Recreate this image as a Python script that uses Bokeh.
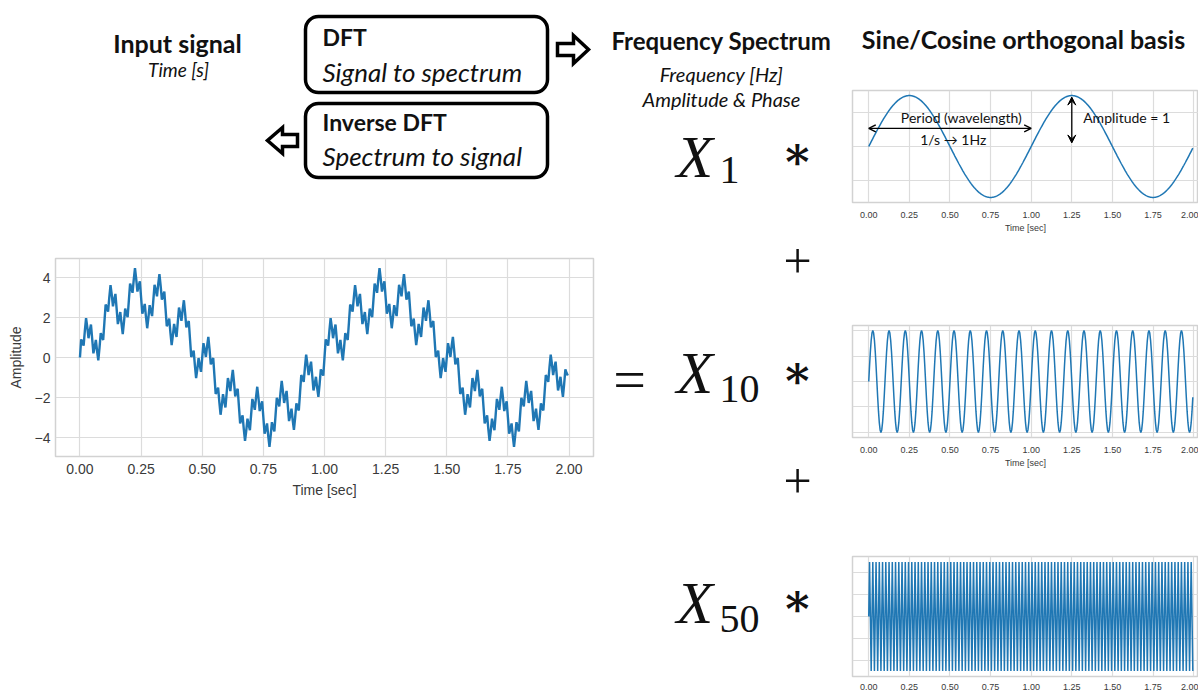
import numpy as np
from bokeh.plotting import figure
from bokeh.layouts import column, row, Spacer
from bokeh.models import (Range1d, BoxAnnotation, Arrow, OpenHead, VeeHead,
                          FixedTicker, NumeralTickFormatter)
from bokeh.core.properties import value
from bokeh.embed import file_html
from bokeh.resources import INLINE

# ---------------- data ----------------
sample_rate_hz = 200          # samples per second
duration_s = 2.0
component_freqs_hz = [1, 10, 50]      # X_1, X_10, X_50
component_amps = [3.0, 1.0, 0.5]      # amplitudes inside the input signal
basis_amp = 1.0                       # "Amplitude = 1"
time_ticks = [0.0, 0.25, 0.5, 0.75, 1.0, 1.25, 1.5, 1.75, 2.0]
signal_y_ticks = [-4, -2, 0, 2, 4]
basis1_y_ticks = [-0.67, 0.0, 0.67]
basis10_y_ticks = [-1.0, -0.5, 0.0, 0.5, 1.0]
basis50_y_ticks = [-0.8, -0.4, 0.0, 0.4, 0.8]
coef_labels = ["1", "10", "50"]

t = np.arange(0, duration_s, 1.0 / sample_rate_hz)
basis = [basis_amp * np.sin(2 * np.pi * f * t) for f in component_freqs_hz]
signal = sum(a * b for a, b in zip(component_amps, basis))

# ---------------- styling ----------------
BLUE = "#1f77b4"
GRID = "#dcdcdc"
FRAME = "#d2d2d2"
TXT = "#3a3a3a"
SANS = "Liberation Sans"
HEAD = "Lato"
SERIF = "Liberation Serif"


def canvas(x0, x1, y0, y1, bl=0, br=0):
    p = figure(width=int(x1 - x0 + bl + br), height=int(y1 - y0),
               x_range=Range1d(x0, x1), y_range=Range1d(-y1, -y0),
               output_backend="svg", toolbar_location=None,
               x_axis_location=None, y_axis_location=None,
               min_border_left=bl, min_border_right=br,
               min_border_top=0, min_border_bottom=0,
               outline_line_color=None)
    p.grid.visible = False
    return p


def txt(p, x, y, s, size, style="normal", font=HEAD, align="left",
        baseline="alphabetic", color="#111111"):
    p.text(x=[x], y=[-y], text=[s], text_font=value(font),
           text_font_size=size, text_font_style=style, text_align=align,
           text_baseline=baseline, text_color=color)


def style_plot(p, tick_size, label_size, yticks, show_y=True):
    p.outline_line_color = FRAME
    p.outline_line_width = 1.5
    p.xgrid.ticker = FixedTicker(ticks=time_ticks)
    p.ygrid.ticker = FixedTicker(ticks=yticks)
    p.grid.grid_line_color = GRID
    p.grid.grid_line_width = 1.2
    p.xaxis.ticker = FixedTicker(ticks=time_ticks)
    p.xaxis.formatter = NumeralTickFormatter(format="0.00")
    p.yaxis.ticker = FixedTicker(ticks=yticks)
    for ax in p.axis:
        ax.axis_line_color = None
        ax.major_tick_line_color = None
        ax.minor_tick_line_color = None
        ax.major_label_text_font = SANS
        ax.major_label_text_font_size = tick_size
        ax.major_label_text_color = TXT
        ax.axis_label_text_font = SANS
        ax.axis_label_text_font_size = label_size
        ax.axis_label_text_font_style = "normal"
        ax.axis_label_text_color = TXT
    if not show_y:
        p.yaxis.visible = False


# ---------------- left header (x 0-600, y 0-250) ----------------
hl = canvas(55, 593, 0, 250, bl=55, br=7)
txt(hl, 177, 42, "Input signal", "25px", "bold", align="center")
txt(hl, 178, 69, "Time [s]", "19px", "italic", align="center")
for top, bot in [(16, 92), (103, 177)]:
    hl.add_layout(BoxAnnotation(left=305, right=547, top=-top, bottom=-bot,
                                fill_color=None, fill_alpha=0,
                                line_color="black", line_alpha=1.0,
                                line_width=3.5, border_radius=13))
txt(hl, 322, 36, "DFT", "23px", "bold")
txt(hl, 322, 71, "Signal to spectrum", "26px", "italic")
txt(hl, 322, 121, "Inverse DFT", "23px", "bold")
txt(hl, 322, 155, "Spectrum to signal", "26px", "italic")
# outline block arrows
ra_x = [557, 573, 573, 588, 573, 573, 557]
ra_y = [43, 43, 35, 49, 63, 55, 55]
hl.patch(ra_x, [-v for v in ra_y], fill_color="white", line_color="black",
         line_width=3.5, line_join="miter")
la_x = [297, 282, 282, 267, 282, 282, 297]
la_y = [134, 134, 127, 140, 153, 146, 146]
hl.patch(la_x, [-v for v in la_y], fill_color="white", line_color="black",
         line_width=3.5, line_join="miter")

# ---------------- input signal plot (x 0-600, y 250-500) ----------------
sig = figure(width=600, height=250, x_range=Range1d(-0.1, 2.1),
             y_range=Range1d(-4.95, 4.95), output_backend="svg",
             toolbar_location=None, min_border_left=55, min_border_right=7,
             min_border_top=8, min_border_bottom=42)
sig.line(t, signal, line_color=BLUE, line_width=2.4)
style_plot(sig, "14px", "14px", signal_y_ticks)
sig.xaxis.axis_label = "Time [sec]"
sig.yaxis.axis_label = "Amplitude"
sig.yaxis.major_label_overrides = {-4: "\u22124", -2: "\u22122", 0: "0", 2: "2", 4: "4"}
sig.xaxis.major_label_standoff = 1
sig.xaxis.axis_label_standoff = 5
sig.yaxis.major_tick_out = 0
sig.yaxis.major_tick_in = 0
sig.yaxis.major_label_standoff = 5
sig.yaxis.axis_label_standoff = 8

left_col = column(hl, sig, spacing=0)

# ---------------- middle column (x 600-840, y 0-694) ----------------
mid = canvas(600, 840, 0, 694)
txt(mid, 721, 40, "Frequency Spectrum", "24px", "bold", align="center")
txt(mid, 721, 73, "Frequency [Hz]", "20px", "italic", align="center")
txt(mid, 721, 98, "Amplitude & Phase", "20px", "italic", align="center")
for lab, xb, sb in zip(coef_labels, [156, 372, 602], [169, 388, 618]):
    txt(mid, 676, xb, "X", "60px", "italic", font=SERIF)
    txt(mid, 719, sb, lab, "40px", "normal", font=SERIF)
for yc in [152, 371, 599]:
    txt(mid, 797, yc, "\u2217", "46px", "bold", font="DejaVu Serif",
        align="center", baseline="middle")
for yc in [261, 481]:
    txt(mid, 797, yc, "+", "50px", font=SERIF, align="center")
txt(mid, 629, 379, "=", "58px", font=SERIF, align="center")

# ---------------- right column (x 840-1198) ----------------
hr = canvas(852, 1198, 0, 88, bl=12, br=0)
txt(hr, 1023, 38, "Sine/Cosine orthogonal basis", "25px", "bold", align="center")


def basis_fig(y, h, top, bot, yticks, with_label=True, standoff=3):
    p = figure(width=358, height=h, x_range=Range1d(-0.1, 2.03),
               y_range=Range1d(-1.1, 1.1), output_backend="svg",
               toolbar_location=None, min_border_left=12, min_border_right=0,
               min_border_top=top, min_border_bottom=bot)
    p.line(t, y, line_color=BLUE, line_width=1.5)
    style_plot(p, "9px", "9px", yticks, show_y=False)
    if with_label:
        p.xaxis.axis_label = "Time [sec]"
    p.xaxis.major_label_standoff = standoff
    p.xaxis.axis_label_standoff = 2
    return p


b1 = basis_fig(basis[0], 147, 2, 25, basis1_y_ticks)
b1.add_layout(Arrow(start=OpenHead(size=7, line_width=1.3),
                    end=OpenHead(size=7, line_width=1.3),
                    x_start=0.0, y_start=0.355, x_end=1.0, y_end=0.355,
                    line_width=1.3, line_color="black"))
b1.add_layout(Arrow(start=VeeHead(size=8, fill_color="black", line_color="black"),
                    end=VeeHead(size=8, fill_color="black", line_color="black"),
                    x_start=1.25, y_start=0.97, x_end=1.25, y_end=0.07,
                    line_width=1.3, line_color="black"))
b1.text(x=[0.57, 0.52, 1.32], y=[0.40, -0.02, 0.40],
        text=["Period (wavelength)", "1/s \u2192 1Hz", "Amplitude = 1"],
        text_align=["center", "center", "left"], text_font=value(HEAD),
        text_font_size="14px", text_color="#111111")

b10 = basis_fig(basis[1], 150, 5, 26, basis10_y_ticks)
b50 = basis_fig(basis[2], 144, 6, 18, basis50_y_ticks, with_label=False,
                standoff=1)

right_col = column(hr, b1, Spacer(width=358, height=85), b10,
                   Spacer(width=358, height=80), b50, spacing=0)

layout = row(left_col, mid, right_col, spacing=0)

open("out.html", "w").write(file_html(layout, INLINE))
